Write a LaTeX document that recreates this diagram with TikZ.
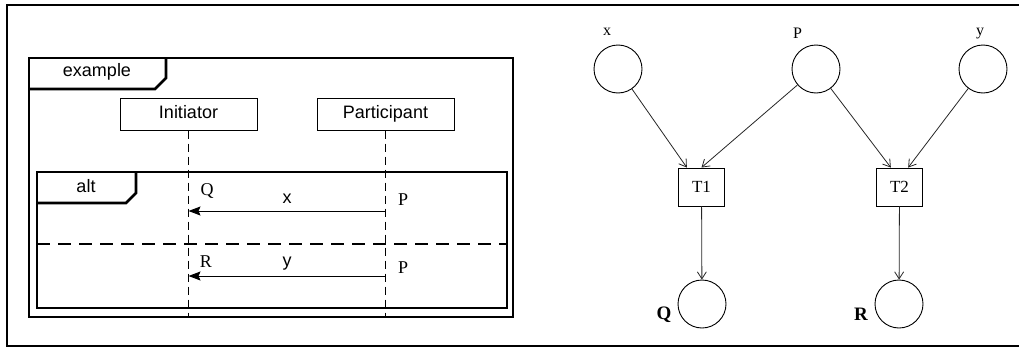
\documentclass[tikz,border=0pt]{standalone}
\usepackage{fontspec}
\setmainfont{Liberation Serif}
\setsansfont{Liberation Sans}
\usetikzlibrary{arrows.meta}

\begin{document}
\begin{tikzpicture}[x=1pt,y=-1pt,
  frame/.style={line width=2.6pt},
  lifebox/.style={draw,line width=1pt,minimum width=137pt,minimum height=32pt,inner sep=0pt,font=\sffamily\fontsize{18}{20}\selectfont,text height=13pt,text depth=4pt},
  lifeline/.style={line width=1pt,dash pattern=on 8pt off 5pt},
  msg/.style={line width=1pt,-{Stealth[length=12pt,width=9pt,inset=2pt]}},
  seqtext/.style={font=\sffamily\fontsize{18}{20}\selectfont},
  endtext/.style={font=\fontsize{18}{20}\selectfont},
  place/.style={circle,draw,line width=0.9pt,minimum size=48pt,inner sep=0pt},
  trans/.style={draw,line width=0.9pt,minimum width=46pt,minimum height=38pt,inner sep=0pt,font=\fontsize{17}{19}\selectfont},
  arc/.style={line width=0.8pt,black!85,-{Straight Barb[length=7pt,width=9pt]}},
  tag/.style={font=\fontsize{16}{18}\selectfont},
  outtag/.style={font=\bfseries\fontsize{19}{21}\selectfont}]
  \useasboundingbox (0,0) rectangle (1019,348);
  \draw[line width=2pt] (1030,5) -- (7,5) -- (7,346) -- (1030,346);

  \draw[frame] (29,58) rectangle (513,317);
  \draw[frame] (29,89) -- (155,89) -- (166,78) -- (166,58);
  \node[seqtext] (ex) at (97,72) {example};
  \node[lifebox] (init) at (188.5,114) {Initiator};
  \node[lifebox] (part) at (385.5,114) {Participant};
  \coordinate (initend) at (188.5,317);
  \coordinate (partend) at (385.5,317);
  \draw[lifeline] (init) -- (initend);
  \draw[lifeline] (part) -- (partend);
  \draw[frame] (37,172) rectangle (507,308);
  \draw[frame] (37,203) -- (126,203) -- (136,193) -- (136,172);
  \node[seqtext] (alt) at (86,186) {alt};
  \draw[frame,dash pattern=on 13pt off 8pt] (37,244) -- (507,244);
  \coordinate (sendx) at (385.5,211);
  \coordinate (recvx) at (188.5,211);
  \coordinate (sendy) at (385.5,276);
  \coordinate (recvy) at (188.5,276);
  \draw[msg] (sendx) -- (recvx);
  \draw[msg] (sendy) -- (recvy);
  \node[seqtext] (mx) at (287,199) {x};
  \node[seqtext] (my) at (287,264) {y};
  \node[endtext] (eq) at (207,191) {Q};
  \node[endtext] (ep1) at (403,200) {P};
  \node[endtext] (er) at (206,262) {R};
  \node[endtext] (ep2) at (403,268) {P};

  \node[place] (px) at (618,69) {};
  \node[place] (pp) at (816,69) {};
  \node[place] (py) at (983,69) {};
  \node[tag] (lx) at (607,32) {x};
  \node[tag] (lp) at (797.5,33) {P};
  \node[tag] (ly) at (980,34) {y};
  \node[trans] (t1) at (701.5,187) {T1};
  \node[trans] (t2) at (899.5,187) {T2};
  \node[place] (pq) at (702,304) {};
  \node[place] (pr) at (899,304) {};
  \node[outtag] (lq) at (664,315) {Q};
  \node[outtag] (lr) at (861,314) {R};
  \draw[arc] (px) -- (t1.127);
  \draw[arc] (pp) -- (t1.90);
  \draw[arc] (pp) -- (t2.114);
  \draw[arc] (py) -- (t2.66);
  \draw[arc] (t1) -- (pq);
  \draw[arc] (t2) -- (pr);
\end{tikzpicture}
\end{document}
